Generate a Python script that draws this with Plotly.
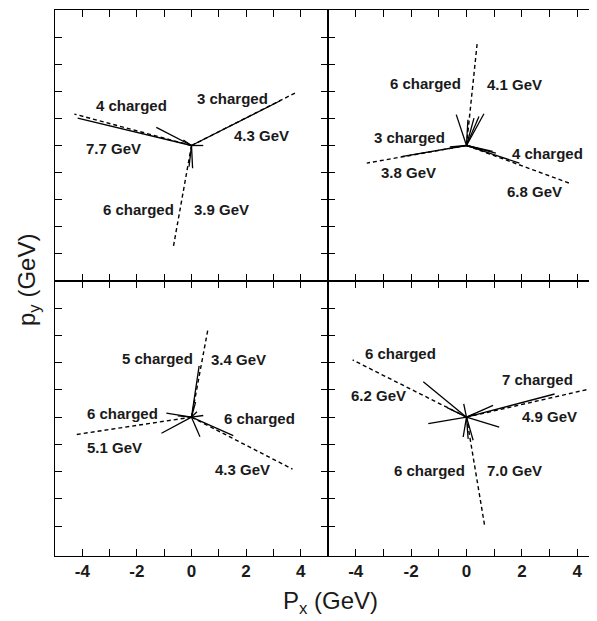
import plotly.graph_objects as go

# ---- data (GeV), four events: jets (dashed) and tracks (solid) ----
# top-left
tl_jet_x = [3.80, -4.29, -0.67]
tl_jet_y = [1.94, 1.16, -3.77]
tl_trk_x = [3.25, -4.17, -1.29, 0.43, -0.09, 0.04, -0.3]
tl_trk_y = [1.65, 1.01, 0.67, 0.00, -0.78, -0.84, 0.2]
tl_lab_text = ["4 charged", "3 charged", "4.3 GeV", "7.7 GeV", "6 charged", "3.9 GeV"]
tl_lab_x = [-2.18, 1.51, 2.57, -2.86, -1.93, 1.10]
tl_lab_y = [1.47, 1.72, 0.36, -0.12, -2.36, -2.36]

# top-right
tr_jet_x = [0.39, -3.60, 3.74]
tr_jet_y = [3.81, -0.65, -1.40]
tr_trk_x = [0.05, -0.37, 0.63, 0.45, 0.27, -2.35, -0.6, 1.91, 1.06, 0.94, 0.55]
tr_trk_y = [0.95, 1.14, 1.17, 1.07, 1.01, -0.41, -0.05, -0.65, -0.28, -0.22, -0.15]
tr_lab_text = ["6 charged", "4.1 GeV", "3 charged", "3.8 GeV", "4 charged", "6.8 GeV"]
tr_lab_x = [-1.47, 1.73, -2.06, -2.10, 2.91, 2.46]
tr_lab_y = [2.27, 2.25, 0.31, -1.00, -0.31, -1.70]

# bottom-left
bl_jet_x = [0.61, -4.23, 3.70]
bl_jet_y = [3.27, -0.64, -1.91]
bl_trk_x = [0.28, -0.92, -1.10, -0.5, 1.53, 0.31, 0.43, 0.2, 0.15]
bl_trk_y = [1.88, 0.15, -0.59, 0.05, -0.68, -0.72, 0.06, 0.2, 0.55]
bl_lab_text = ["5 charged", "3.4 GeV", "6 charged", "5.1 GeV", "6 charged", "4.3 GeV"]
bl_lab_x = [-1.26, 1.71, -2.51, -2.82, 2.49, 1.86]
bl_lab_y = [2.14, 2.10, 0.13, -1.11, -0.04, -1.91]

# bottom-right
br_jet_x = [-4.11, 4.56, 0.66]
br_jet_y = [2.10, 1.06, -4.02]
br_trk_x = [-1.56, -0.7, 3.18, 0.96, -1.38, 1.18, -0.12, 0.24, 0.06, -0.10, 0.3]
br_trk_y = [1.30, 0.35, 0.85, 0.43, -0.24, -0.37, -0.73, -0.85, -0.80, 0.49, 0.12]
br_lab_text = ["6 charged", "6.2 GeV", "7 charged", "4.9 GeV", "6 charged", "7.0 GeV"]
br_lab_x = [-2.40, -3.18, 2.58, 3.00, -1.32, 1.74]
br_lab_y = [2.32, 0.79, 1.37, 0.02, -1.95, -1.95]

x_ticks = [-4, -3, -2, -1, 0, 1, 2, 3, 4]
x_ticktext = ["<b>-4</b>", "", "<b>-2</b>", "", "<b>0</b>", "", "<b>2</b>", "", "<b>4</b>"]
y_ticks = [-4, -3, -2, -1, 0, 1, 2, 3, 4]

panels = [
    (tl_jet_x, tl_jet_y, tl_trk_x, tl_trk_y, tl_lab_text, tl_lab_x, tl_lab_y, "x", "y"),
    (tr_jet_x, tr_jet_y, tr_trk_x, tr_trk_y, tr_lab_text, tr_lab_x, tr_lab_y, "x2", "y2"),
    (bl_jet_x, bl_jet_y, bl_trk_x, bl_trk_y, bl_lab_text, bl_lab_x, bl_lab_y, "x3", "y3"),
    (br_jet_x, br_jet_y, br_trk_x, br_trk_y, br_lab_text, br_lab_x, br_lab_y, "x4", "y4"),
]


def rays(xs, ys):
    ox, oy = [], []
    for a, b in zip(xs, ys):
        ox += [0, a, None]
        oy += [0, b, None]
    return ox, oy


fig = go.Figure()
annotations = []
FONT = "Liberation Sans, Arial, Helvetica, sans-serif"
for jx, jy, tx, ty, lt, lx, ly, xa, ya in panels:
    ax_, ay_ = rays(tx, ty)
    fig.add_trace(go.Scatter(x=ax_, y=ay_, mode="lines", xaxis=xa, yaxis=ya,
                             line=dict(color="black", width=1.3), showlegend=False,
                             hoverinfo="skip"))
    bx_, by_ = rays(jx, jy)
    fig.add_trace(go.Scatter(x=bx_, y=by_, mode="lines", xaxis=xa, yaxis=ya,
                             line=dict(color="black", width=1.4, dash="4px,3px"),
                             showlegend=False, hoverinfo="skip"))
    for t, x, y in zip(lt, lx, ly):
        annotations.append(dict(x=x, y=y, xref=xa, yref=ya, text="<b>%s</b>" % t,
                                showarrow=False,
                                font=dict(family=FONT, size=15, color="#1a1a1a")))

# page body has an 8px margin; layout below is in figure pixels
W, H = 597, 621
ML, MT, MB = 47, 2, 73
PW, PH = W - ML, H - MT - MB
split = (320 - ML) / PW
ysplit = (548 - 273) / PH

common_x = dict(tickmode="array", tickvals=x_ticks, ticks="inside", ticklen=7,
                tickwidth=1.2, tickcolor="black", showline=True, linecolor="black",
                linewidth=1.1, mirror="ticks", showgrid=False, zeroline=False)
common_y = dict(tickmode="array", tickvals=y_ticks, ticks="inside", ticklen=7,
                tickwidth=1.2, tickcolor="black", showline=True, linecolor="black",
                linewidth=1.1, mirror="ticks", showgrid=False, zeroline=False,
                showticklabels=False)

tickfont = dict(family=FONT, size=17, color="#1a1a1a")

fig.update_layout(
    width=W, height=H,
    margin=dict(l=ML, r=0, t=MT, b=MB),
    plot_bgcolor="white", paper_bgcolor="white",
    xaxis=dict(domain=[0, split], range=[-5, 5], anchor="y", showticklabels=False, **common_x),
    yaxis=dict(domain=[ysplit, 1], range=[-5, 5], anchor="x", **common_y),
    xaxis2=dict(domain=[split, 1], range=[-5, 5], anchor="y2", showticklabels=False, **common_x),
    yaxis2=dict(domain=[ysplit, 1], range=[-5, 5], anchor="x2", **common_y),
    xaxis3=dict(domain=[0, split], range=[-5, 5], anchor="y3", ticktext=x_ticktext,
                tickfont=tickfont, **common_x),
    yaxis3=dict(domain=[0, ysplit], range=[-5.1, 5.0], anchor="x3", **common_y),
    xaxis4=dict(domain=[split, 1], range=[-5, 5], anchor="y4", ticktext=x_ticktext,
                tickfont=tickfont, **common_x),
    yaxis4=dict(domain=[0, ysplit], range=[-5.1, 5.0], anchor="x4", **common_y),
)

annotations.append(dict(x=(322 - ML) / PW, y=-(594 - 548) / PH, xref="paper", yref="paper",
                        xanchor="center", yanchor="middle",
                        text="P<sub>x</sub> (GeV)", showarrow=False,
                        font=dict(family=FONT, size=24, color="#1a1a1a")))
annotations.append(dict(x=(20 - ML) / PW, y=(548 - 272) / PH, xref="paper", yref="paper",
                        xanchor="center", yanchor="middle",
                        text="p<sub>y</sub> (GeV)", showarrow=False, textangle=-90,
                        font=dict(family=FONT, size=24, color="#1a1a1a")))
fig.update_layout(annotations=annotations)

fig.write_html("out.html")
